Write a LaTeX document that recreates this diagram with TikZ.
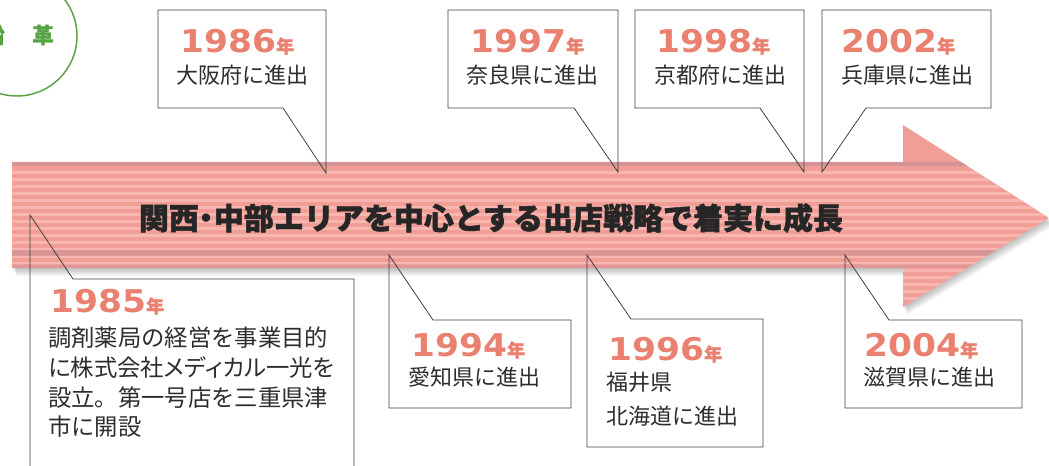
\documentclass[tikz,border=0pt]{standalone}
\usepackage{fontspec}
\setmainfont{DejaVu Sans}
\newfontfamily\yearfont{DejaVu Sans}[FakeStretch=1.1]
\newfontfamily\jpfont{Noto Sans CJK JP}
\newfontfamily\jppalt{Noto Sans CJK JP}[RawFeature=+palt]
\newfontfamily\jpheavy{Noto Sans CJK JP}[BoldFeatures={FakeBold=1.6}]
\usetikzlibrary{positioning}
\definecolor{yearred}{RGB}{234,128,112}
\definecolor{histgreen}{RGB}{86,163,68}
\definecolor{arrowpink}{RGB}{241,158,151}
\definecolor{arrowlight}{RGB}{247,182,176}
\definecolor{arrowdark}{RGB}{212,146,148}
\definecolor{boxline}{RGB}{64,64,64}
\definecolor{bodytext}{RGB}{45,45,45}
\tikzset{
  balloon/.style={draw=boxline, line width=0.6pt, line join=miter},
  yearlabel/.style={anchor=base west, inner sep=0pt, text=yearred,
    font=\yearfont\bfseries\fontsize{23.5}{23.5}\selectfont},
  placelabel/.style={anchor=base west, inner sep=0pt, text=bodytext,
    font=\jpfont\fontsize{16.5}{16.5}\selectfont},
  arrowshape/.style={insert path={(12,162) -- (903,162) -- (903,125) -- (1049,218)
    -- (903,307) -- (903,268) -- (12,268) -- cycle}},
}
\newcommand{\nen}{{\jpheavy\bfseries\fontsize{13.5}{13.5}\selectfont 年}}

\begin{document}
\begin{tikzpicture}[x=0.75pt,y=-0.75pt]
\useasboundingbox (0,0) rectangle (1049,466);
\clip (0,0) rectangle (1049,466);

% title circle
\draw[histgreen, line width=1.1pt] (17,36) circle[radius=45pt];
\node[text=histgreen, font=\jpheavy\bfseries\fontsize{16}{16}\selectfont] (hist1) at (-6,35) {沿};
\node[text=histgreen, font=\jpheavy\bfseries\fontsize{16}{16}\selectfont] (hist2) at (43,35) {革};

% big arrow with shadow
\foreach \d in {1,...,7} {
  \fill[black!70, opacity=0.06, shift={(\d*0.6,\d*1.1)}] [arrowshape];
}
\begin{scope}
\clip [arrowshape];
\fill[arrowpink] (0,100) rectangle (1049,320);
\foreach \y in {171,178,...,300} {
  \fill[arrowlight] (0,\y) rectangle (1049,\y+3);
}
\fill[arrowdark] (0,162) rectangle (1049,166);
\fill[arrowdark, opacity=0.8] (0,250) rectangle (1049,256);
\fill[arrowdark, opacity=0.5] (0,264) rectangle (1049,268);
\end{scope}
\node[font=\jpheavy\bfseries\fontsize{22.5}{22.5}\selectfont, text=black!85] (slogan) at (491,218)
  {関西{\jppalt ・}中部エリアを中心とする出店戦略で着実に成長};

% balloons above
\draw[balloon] (158,10) -- (326,10) -- (326,173) -- (283,108) -- (158,108) -- cycle;
\draw[balloon] (448,10) -- (618,10) -- (618,172) -- (574,108) -- (448,108) -- cycle;
\draw[balloon] (635,10) -- (804,10) -- (804,172) -- (760,108) -- (635,108) -- cycle;
\draw[balloon] (822,10) -- (991,10) -- (991,108) -- (866,108) -- (822,172) -- cycle;

% balloons below
\draw[balloon] (30,470) -- (30,215) -- (73,279) -- (354,279) -- (354,470);
\draw[balloon] (389,255) -- (433,320) -- (571,320) -- (571,408) -- (389,408) -- cycle;
\draw[balloon] (587,255) -- (631,319) -- (763,319) -- (763,447) -- (587,447) -- cycle;
\draw[balloon] (845,255) -- (889,320) -- (1022,320) -- (1022,408) -- (845,408) -- cycle;

% years
\node[yearlabel] (y1985) at (50,313) {1985\nen};
\node[yearlabel] (y1986) at (180,53) {1986\nen};
\node[yearlabel] (y1994) at (411,357) {1994\nen};
\node[yearlabel] (y1996) at (608,361) {1996\nen};
\node[yearlabel] (y1997) at (470,53) {1997\nen};
\node[yearlabel] (y1998) at (656,53) {1998\nen};
\node[yearlabel] (y2002) at (841,53) {2002\nen};
\node[yearlabel] (y2004) at (864,357) {2004\nen};

% places
\node[placelabel] (p1986) at (176,84) {大阪府に進出};
\node[placelabel] (p1997) at (466,84) {奈良県に進出};
\node[placelabel] (p1998) at (654,84) {京都府に進出};
\node[placelabel] (p2002) at (841,84) {兵庫県に進出};
\node[placelabel] (p1994) at (408,386) {愛知県に進出};
\node[placelabel] (p1996a) at (606,391) {福井県};
\node[placelabel] (p1996b) at (606,424) {北海道に進出};
\node[placelabel] (p2004) at (863,386) {滋賀県に進出};
\foreach \txt [count=\i] in {調剤薬局の経営を事業目的,
    {\jppalt に株式会社メディカル一光を}, 設立。第一号店を三重県津, 市に開設} {
  \node[placelabel, font=\jpfont\fontsize{17.5}{17.5}\selectfont] (p1985-\i)
    at (48,{317+29.7*\i}) {\txt};
}
\end{tikzpicture}
\end{document}
